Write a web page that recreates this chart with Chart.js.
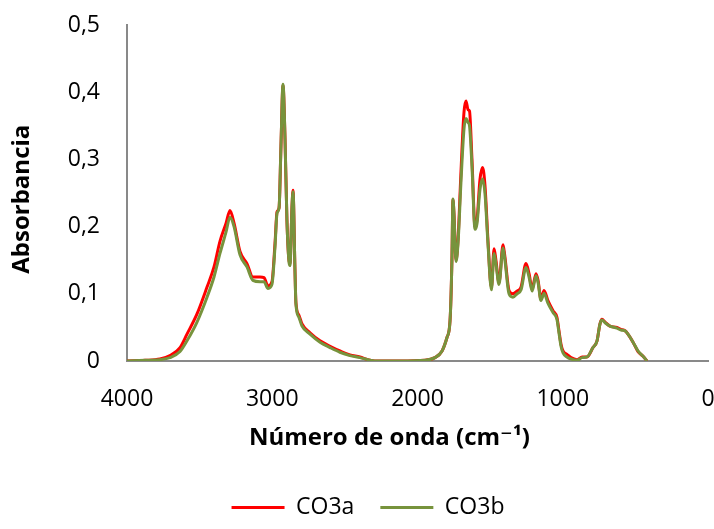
<!DOCTYPE html>
<html>
<head>
<meta charset="utf-8">
<script src="https://cdn.jsdelivr.net/npm/chart.js@4/dist/chart.umd.min.js"></script>
<style>
  html, body { margin: 0; padding: 0; background: #fff; }
  #wrap { width: 714px; height: 529px; }
</style>
</head>
<body>
<div id="wrap"><canvas id="myChart"></canvas></div>
<script>
// wavenumbers (cm-1)
const wavenumbers = [4000, 3876, 3773, 3704, 3635, 3587, 3518, 3449, 3401, 3360, 3318, 3291, 3263, 3222, 3174, 3133, 3084, 3057, 3029, 3002,
  2981, 2967, 2953, 2940, 2926, 2912, 2899, 2885, 2878, 2864, 2857, 2844, 2837, 2816, 2795, 2740, 2671, 2602, 2534, 2465,
  2396, 2341, 2293, 2120, 1948, 1880, 1831, 1797, 1776, 1763, 1756, 1749, 1735, 1721, 1701, 1680, 1666, 1652, 1642, 1625,
  1604, 1590, 1570, 1552, 1535, 1515, 1491, 1473, 1460, 1439, 1411, 1398, 1370, 1343, 1315, 1287, 1253, 1232, 1211, 1184,
  1170, 1150, 1129, 1102, 1067, 1040, 1026, 1012, 998, 971, 943, 902, 867, 833, 792, 764, 744, 730, 709, 675,
  627, 599, 571, 551, 516, 482, 447, 420];

const co3a = [0.000, 0.001, 0.003, 0.008, 0.020, 0.040, 0.070, 0.110, 0.140, 0.178, 0.205, 0.224, 0.205, 0.163, 0.145, 0.125, 0.125, 0.124, 0.112, 0.118,
  0.175, 0.222, 0.228, 0.320, 0.410, 0.330, 0.210, 0.150, 0.145, 0.230, 0.254, 0.140, 0.087, 0.068, 0.055, 0.042, 0.030, 0.022, 0.015, 0.009,
  0.006, 0.002, 0.000, 0.000, 0.001, 0.005, 0.015, 0.035, 0.060, 0.150, 0.240, 0.220, 0.150, 0.180, 0.280, 0.370, 0.387, 0.374, 0.372, 0.300,
  0.200, 0.210, 0.270, 0.288, 0.260, 0.180, 0.109, 0.167, 0.150, 0.117, 0.173, 0.155, 0.105, 0.100, 0.104, 0.110, 0.145, 0.130, 0.107, 0.130,
  0.120, 0.092, 0.105, 0.090, 0.075, 0.065, 0.045, 0.025, 0.015, 0.010, 0.005, 0.002, 0.006, 0.006, 0.020, 0.030, 0.055, 0.062, 0.058, 0.052,
  0.050, 0.047, 0.045, 0.040, 0.028, 0.014, 0.007, 0.000];

const co3b = [0.000, 0.001, 0.002, 0.005, 0.014, 0.030, 0.058, 0.095, 0.125, 0.160, 0.192, 0.214, 0.200, 0.158, 0.140, 0.120, 0.118, 0.118, 0.108, 0.114,
  0.170, 0.220, 0.228, 0.320, 0.412, 0.330, 0.210, 0.148, 0.142, 0.230, 0.252, 0.138, 0.085, 0.065, 0.052, 0.040, 0.028, 0.020, 0.013, 0.008,
  0.005, 0.002, 0.000, 0.000, 0.001, 0.005, 0.015, 0.035, 0.060, 0.150, 0.241, 0.220, 0.148, 0.175, 0.265, 0.345, 0.361, 0.355, 0.350, 0.290,
  0.196, 0.205, 0.255, 0.271, 0.248, 0.175, 0.106, 0.160, 0.145, 0.114, 0.168, 0.150, 0.100, 0.095, 0.100, 0.106, 0.139, 0.125, 0.104, 0.127,
  0.117, 0.090, 0.101, 0.086, 0.072, 0.062, 0.042, 0.022, 0.012, 0.006, 0.003, 0.001, 0.005, 0.006, 0.020, 0.030, 0.055, 0.061, 0.057, 0.052,
  0.049, 0.046, 0.045, 0.040, 0.028, 0.015, 0.007, 0.000];

const xTicks = [4000, 3000, 2000, 1000, 0];
const yTicks = [0, 0.1, 0.2, 0.3, 0.4, 0.5];

function pts(ys) {
  return wavenumbers.map((w, i) => ({ x: w, y: ys[i] }));
}

const font = "'Open Sans', 'DejaVu Sans', sans-serif";
const axisGray = '#898989';

// nudge the legend a bit to the right, like the original
const legendShift = {
  id: 'legendShift',
  afterLayout(chart) {
    if (chart.legend) { chart.legend.left += 14; chart.legend.right += 14; }
  }
};

const ctx = document.getElementById('myChart').getContext('2d');
const chart = new Chart(ctx, {
  type: 'line',
  data: {
    // green first so it is drawn on top, legend reversed below
    datasets: [
      { label: 'CO3b', data: pts(co3b), borderColor: '#77933C', borderWidth: 3, pointRadius: 0, cubicInterpolationMode: 'monotone', fill: false },
      { label: 'CO3a', data: pts(co3a), borderColor: '#FF0000', borderWidth: 3, pointRadius: 0, cubicInterpolationMode: 'monotone', fill: false }
    ]
  },
  plugins: [legendShift],
  options: {
    responsive: true,
    maintainAspectRatio: false,
    animation: false,
    layout: { padding: { top: 25, right: 6, bottom: 0, left: 0 } },
    plugins: {
      tooltip: { enabled: false },
      legend: {
        position: 'bottom',
        reverse: true,
        labels: {
          usePointStyle: true,
          pointStyle: 'line',
          pointStyleWidth: 53,
          boxHeight: 3,
          color: '#000',
          padding: 26,
          font: { family: font, size: 23 }
        }
      }
    },
    scales: {
      x: {
        type: 'linear',
        reverse: true,
        min: 0,
        max: 4000,
        afterBuildTicks: (s) => { s.ticks = xTicks.map(v => ({ value: v })); },
        afterFit: (s) => { s.height = 109; s.paddingLeft = 0; s.paddingRight = 0; },
        grid: { display: false, drawTicks: false },
        border: { display: true, color: axisGray, width: 2 },
        ticks: {
          color: '#000',
          padding: 25,
          font: { family: font, size: 23 },
          maxRotation: 0,
          callback: (v) => String(v)
        },
        title: {
          display: true,
          // trailing spaces keep the title a little left of the plot centre
          text: 'Número de onda (cm⁻¹)         ',
          color: '#000',
          font: { family: font, size: 24, weight: 'bold' },
          padding: { top: 0, bottom: 17 }
        }
      },
      y: {
        min: 0,
        max: 0.5,
        afterBuildTicks: (s) => { s.ticks = yTicks.map(v => ({ value: v })); },
        afterFit: (s) => { s.width = 127; s.paddingTop = 0; s.paddingBottom = 0; },
        grid: { display: false, drawTicks: false },
        border: { display: true, color: axisGray, width: 2 },
        ticks: {
          color: '#000',
          padding: 27,
          font: { family: font, size: 23 },
          callback: (v) => v === 0 ? '0' : v.toFixed(1).replace('.', ',')
        },
        title: {
          display: true,
          text: 'Absorbancia  ',
          color: '#000',
          font: { family: font, size: 24, weight: 'bold' },
          padding: { top: 8, bottom: 0 }
        }
      }
    }
  }
});
</script>
</body>
</html>
